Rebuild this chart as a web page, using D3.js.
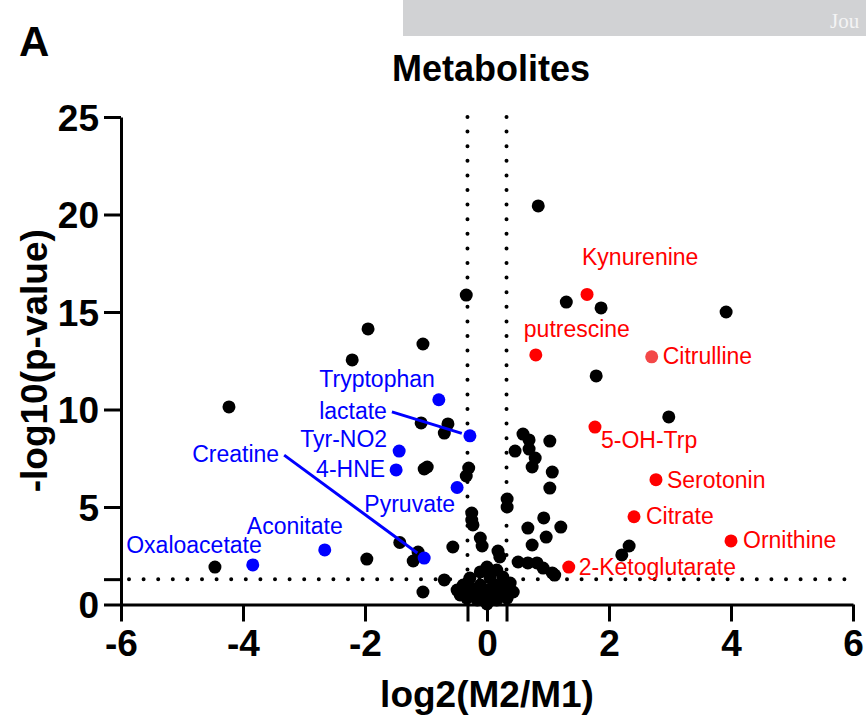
<!DOCTYPE html>
<html>
<head>
<meta charset="utf-8">
<script src="https://cdn.jsdelivr.net/npm/d3@7"></script>
<style>
  body { margin: 0; background: #fff; }
  text { font-family: "Liberation Sans", Arial, sans-serif; }
</style>
</head>
<body>
<div id="chart"></div>
<script>
// x ticks / y ticks
const xTicks = [-6, -4, -2, 0, 2, 4, 6];
const yTicks = [0, 5, 10, 15, 20, 25];
const fcCut = 0.32;   // log2 fold change threshold
const pCut = 1.3;     // -log10(0.05)

// unlabelled metabolites [log2FC, -log10 p]
const others = [
  [0.84, 20.44], [-0.34, 15.87], [-1.95, 14.13], [-1.05, 13.36], [-2.21, 12.54],
  [1.30, 15.51], [1.87, 15.21], [3.92, 15.00], [1.79, 11.72], [2.98, 9.62],
  [-4.23, 10.13], [-1.08, 9.31], [-0.64, 9.26], [-0.70, 8.79], [-0.98, 7.05],
  [-1.03, 6.95], [-0.30, 7.00], [-0.34, 6.59], [0.59, 8.74], [0.69, 8.44],
  [1.03, 8.38], [0.46, 7.87], [0.69, 7.97], [0.79, 7.51], [0.74, 7.05],
  [1.07, 6.79], [1.03, 5.97], [0.33, 5.41], [0.33, 5.00], [0.93, 4.44],
  [0.67, 3.92], [1.21, 3.97], [0.97, 3.46], [0.74, 3.05], [-0.25, 4.69],
  [-0.25, 4.33], [-0.23, 4.08], [-0.11, 3.41], [-0.08, 3.00], [-0.56, 2.95],
  [-1.43, 3.18], [-1.13, 2.69], [-1.21, 2.23], [0.18, 2.74], [0.21, 2.44],
  [0.51, 2.18], [0.67, 2.13], [0.82, 2.13], [0.92, 1.87], [1.07, 1.62],
  [1.11, 1.51], [-0.70, 1.26], [-1.05, 0.64], [-4.46, 1.92], [-1.97, 2.33],
  [2.21, 2.54], [2.33, 3.00], [-0.49, 0.74], [-0.39, 1.00], [-0.28, 1.36],
  [-0.11, 1.67], [0.00, 1.92], [0.16, 1.77], [0.26, 1.41], [0.38, 1.10],
  [0.43, 0.64], [0.33, 0.33], [0.16, 0.23], [0.00, 0.03], [-0.16, 0.23],
  [-0.33, 0.33], [-0.44, 0.49], [0.02, 0.74], [-0.11, 1.00], [0.13, 1.00],
  [0.05, 1.36], [-0.20, 0.64], [0.21, 0.64], [-0.07, 0.44], [0.08, 0.38],
  [-0.28, 0.85], [0.30, 0.95]
];

// up in M2 (red)
const upNames = ["Kynurenine", "putrescine", "Citrulline", "5-OH-Trp", "Serotonin", "Citrate", "Ornithine", "2-Ketoglutarate"];
const upX = [1.64, 0.80, 2.70, 1.77, 2.77, 2.41, 4.00, 1.34];
const upY = [15.9, 12.8, 12.7, 9.1, 6.4, 4.5, 3.26, 1.92];

// down in M2 (blue)
const downNames = ["Tryptophan", "lactate", "Tyr-NO2", "4-HNE", "Pyruvate", "Creatine", "Aconitate", "Oxaloacetate"];
const downX = [-0.79, -0.28, -1.44, -1.49, -0.49, -1.03, -2.66, -3.84];
const downY = [10.5, 8.65, 7.87, 6.9, 6.0, 2.38, 2.8, 2.03];

// label placement: offset from the point (px), anchor, optional leader line
const labelPos = {
  "Kynurenine": [-5, -29, "start"],
  "putrescine": [-12, -18, "start"],
  "Citrulline": [11, 7, "start"],
  "5-OH-Trp": [6, 21, "start"],
  "Serotonin": [11, 8, "start"],
  "Citrate": [12, 7, "start"],
  "Ornithine": [12, 7, "start"],
  "2-Ketoglutarate": [10, 8, "start"],
  "Tryptophan": [-4, -13, "end"],
  "lactate": [-83, -17, "end", true],
  "Tyr-NO2": [-12, -4, "end"],
  "4-HNE": [-11, 7, "end"],
  "Pyruvate": [-2, 24, "end"],
  "Creatine": [-145, -96, "end", true],
  "Aconitate": [18, -16, "end"],
  "Oxaloacetate": [9, -12, "end"]
};

const W = 866, H = 727;
const svg = d3.select("#chart").append("svg")
  .attr("width", W)
  .attr("height", H);

const x = d3.scaleLinear().domain([-6, 6]).range([121, 853]);
const y = d3.scaleLinear().domain([0, 25]).range([604.5, 117]);

// journal header bar
svg.append("rect")
  .attr("x", 403).attr("y", 0)
  .attr("width", W - 403).attr("height", 36)
  .attr("fill", "#d1d2d4");
svg.append("text")
  .attr("x", 830).attr("y", 28)
  .attr("fill", "#f4f4f4")
  .style("font-family", "'Liberation Serif', serif")
  .style("font-size", "21px")
  .text("Jou");

svg.append("text")
  .attr("x", 19).attr("y", 56)
  .style("font-size", "42px").style("font-weight", "bold")
  .text("A");

svg.append("text")
  .attr("x", 491).attr("y", 81)
  .attr("text-anchor", "middle")
  .style("font-size", "36px").style("font-weight", "bold")
  .text("Metabolites");

// threshold lines
const dotted = g => g.attr("stroke", "#000").attr("stroke-width", 4)
  .attr("stroke-linecap", "round").attr("stroke-dasharray", "0 14.6").attr("fill", "none");

[-fcCut, fcCut].forEach(v => {
  svg.append("line")
    .attr("x1", x(v)).attr("x2", x(v))
    .attr("y1", y(25)).attr("y2", y(0))
    .call(dotted);
});
svg.append("line")
  .attr("x1", x(-6) + 8).attr("x2", x(6))
  .attr("y1", y(pCut)).attr("y2", y(pCut))
  .call(dotted);

// axes (plain hyphen for negatives, as in the figure)
const fmt = d => String(d);
svg.append("g")
  .attr("transform", `translate(0,${y(0)})`)
  .call(d3.axisBottom(x).tickValues(xTicks).tickSize(17).tickSizeOuter(0).tickPadding(8).tickFormat(fmt));
svg.append("g")
  .attr("transform", `translate(0,${y(0)})`)
  .call(d3.axisBottom(x).tickValues([-fcCut, fcCut]).tickSize(17).tickFormat(""))
  .select(".domain").remove();

const yAxis = svg.append("g")
  .attr("transform", `translate(${x(-6)},0)`)
  .call(d3.axisLeft(y).tickValues(yTicks).tickSize(17).tickSizeOuter(0).tickPadding(5).tickFormat(fmt));
svg.append("g")
  .attr("transform", `translate(${x(-6)},0)`)
  .call(d3.axisLeft(y).tickValues([pCut]).tickSize(17).tickFormat(""))
  .select(".domain").remove();

svg.selectAll(".domain, .tick line")
  .attr("stroke", "#000").attr("stroke-width", 3);
svg.selectAll(".tick text")
  .attr("fill", "#000")
  .style("font-family", "'Liberation Sans', Arial, sans-serif")
  .style("font-size", "37px").style("font-weight", "bold");
yAxis.selectAll(".tick text").attr("dy", "0.36em");

svg.append("text")
  .attr("x", 487).attr("y", 707)
  .attr("text-anchor", "middle")
  .style("font-size", "37px").style("font-weight", "bold")
  .text("log2(M2/M1)");

svg.append("text")
  .attr("transform", `translate(47,${(y(0) + y(25)) / 2}) rotate(-90)`)
  .attr("text-anchor", "middle")
  .style("font-size", "37px").style("font-weight", "bold")
  .text("-log10(p-value)");

// points
const r = 6.5;
svg.append("g").selectAll("circle")
  .data(others)
  .join("circle")
  .attr("cx", d => x(d[0]))
  .attr("cy", d => y(d[1]))
  .attr("r", r)
  .attr("fill", "#000");

const up = upNames.map((n, i) => ({ name: n, fc: upX[i], p: upY[i], color: n === "Citrulline" ? "#f34848" : "#ff0000", text: "#ff0000" }));
const down = downNames.map((n, i) => ({ name: n, fc: downX[i], p: downY[i], color: "#0000ff", text: "#0000ff" }));
const marked = up.concat(down);

// leader lines
marked.filter(d => labelPos[d.name][3]).forEach(d => {
  const [dx, dy] = labelPos[d.name];
  const px = x(d.fc), py = y(d.p);
  const sx = px + dx + 5, sy = py + dy - 7;
  const len = Math.hypot(px - sx, py - sy);
  svg.append("line")
    .attr("x1", sx).attr("y1", sy)
    .attr("x2", px - (px - sx) / len * (r + 2))
    .attr("y2", py - (py - sy) / len * (r + 2))
    .attr("stroke", "#0000ff").attr("stroke-width", 3);
});

svg.append("g").selectAll("circle")
  .data(marked)
  .join("circle")
  .attr("cx", d => x(d.fc))
  .attr("cy", d => y(d.p))
  .attr("r", r)
  .attr("fill", d => d.color);

svg.append("g").selectAll("text")
  .data(marked)
  .join("text")
  .attr("x", d => x(d.fc) + labelPos[d.name][0])
  .attr("y", d => y(d.p) + labelPos[d.name][1])
  .attr("text-anchor", d => labelPos[d.name][2])
  .attr("fill", d => d.text)
  .style("font-size", "23px")
  .text(d => d.name);
</script>
</body>
</html>
